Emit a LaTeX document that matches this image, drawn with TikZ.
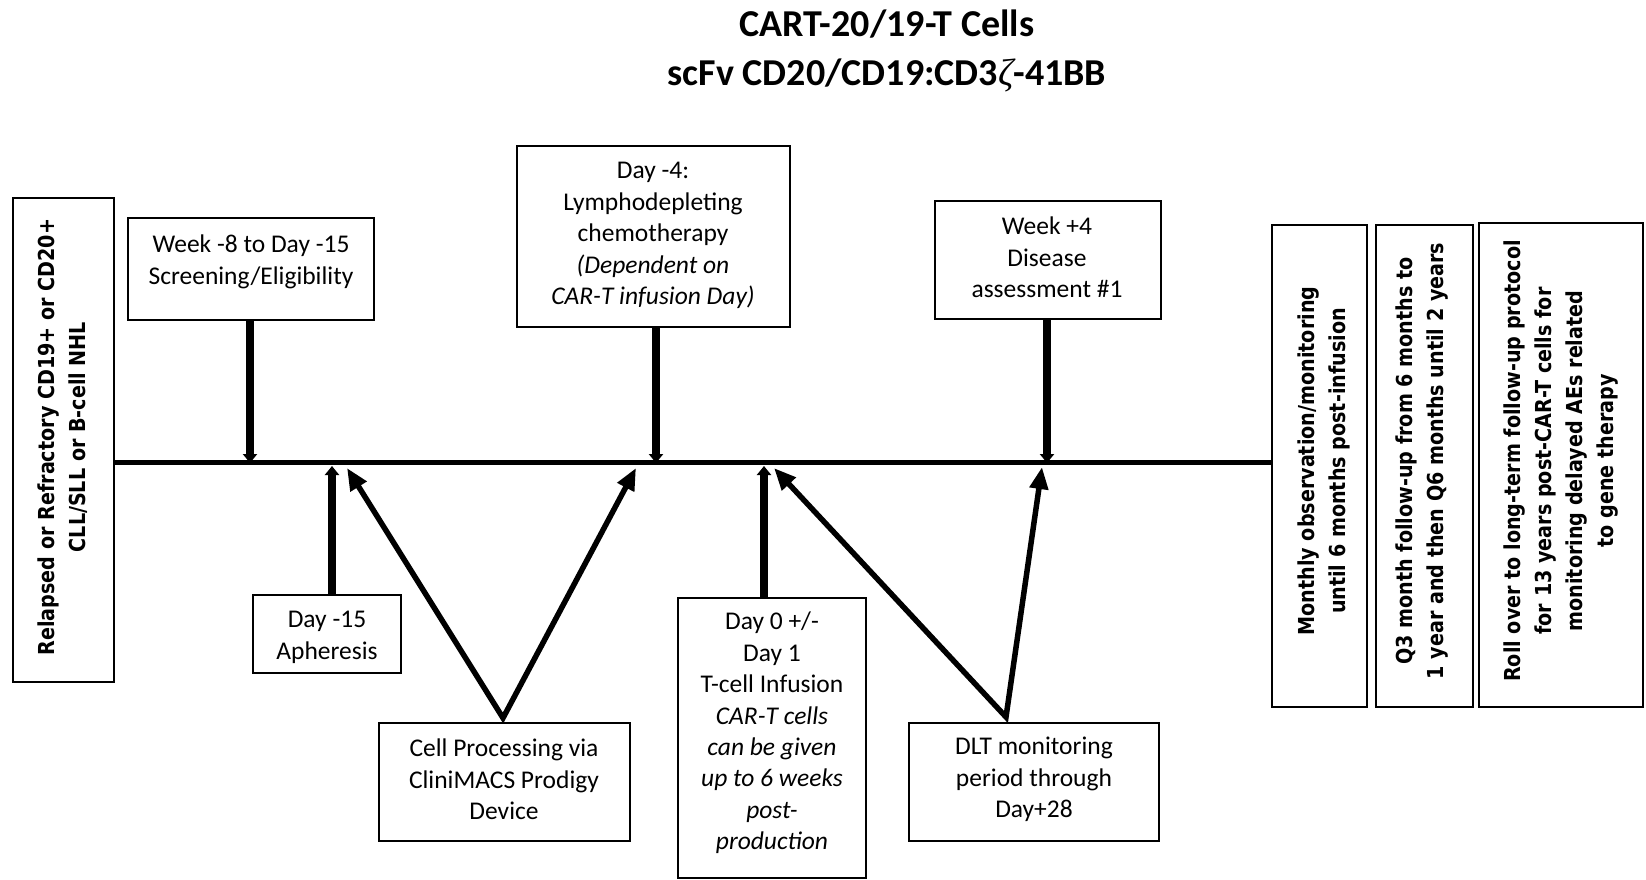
\documentclass[tikz,border=0pt]{standalone}
\usepackage{fontspec}
\setmainfont{Carlito}
\newfontfamily\rotfont[FakeStretch=0.87]{DejaVu Sans}
\newfontfamily\zetafont{Liberation Serif}
\usetikzlibrary{arrows.meta}
\begin{document}
\begin{tikzpicture}[x=1pt,y=-1pt,
  box/.style={draw=black, line width=1.5pt, inner sep=0pt},
  txt/.style={font=\fontsize{25.5}{31.4}\selectfont, align=center, inner sep=0pt},
  rtxt/.style={font=\rotfont\bfseries\fontsize{22}{31}\selectfont, align=center, rotate=90, inner sep=0pt},
  ttl/.style={font=\bfseries\fontsize{38}{44}\selectfont, anchor=base, inner sep=0pt},
  vconn/.style={line width=8pt, -{Triangle[length=9pt,width=14pt]}},
  dconn/.style={line width=5.5pt, line join=miter, {Triangle[length=22pt,width=18pt]}-{Triangle[length=22pt,width=18pt]}},
  tline/.style={line width=5pt}]
\useasboundingbox (0,0) rectangle (1646,879);

% title
\node[ttl] (title1) at (887,36.5) {CART-20/19-T Cells};
\node[ttl] (title2) at (887,85.5) {scFv CD20/CD19:CD3{\zetafont\mdseries\itshape ζ}-41BB};

% boxes
\node[box, minimum width=101pt, minimum height=484pt] (lb) at (63.5,440) {};
\node[rtxt] (lbt) at (62.5,437) {Relapsed or Refractory CD19+ or CD20+\\CLL/SLL or B-cell NHL};

\node[box, minimum width=246pt, minimum height=102pt] (wk) at (251,269) {};
\node[txt] (wkt) at (251,262) {Week -8 to Day -15\\Screening/Eligibility};

\node[box, minimum width=273pt, minimum height=181pt] (ch) at (653.5,236.5) {};
\node[txt] (cht) at (653,235.5) {Day -4:\\Lymphodepleting\\chemotherapy\\\textit{(Dependent on}\\\textit{CAR-T infusion Day)}};

\node[box, minimum width=226pt, minimum height=118pt] (w4) at (1048,260) {};
\node[txt] (w4t) at (1047,257.5) {Week +4\\Disease\\assessment \#1};

\node[box, minimum width=148pt, minimum height=78pt] (ap) at (327,634) {};
\node[txt] (apt) at (327,637.5) {Day -15\\Apheresis};

\node[box, minimum width=251pt, minimum height=118pt] (cp) at (504.5,782) {};
\node[txt] (cpt) at (504,779.5) {Cell Processing via\\CliniMACS Prodigy\\Device};

\node[box, minimum width=188pt, minimum height=280pt] (d0) at (772,738) {};
\node[txt] (d0t) at (772,733) {Day 0 +/-\\Day 1\\T-cell Infusion\\\textit{CAR-T cells}\\\textit{can be given}\\\textit{up to 6 weeks}\\\textit{post-}\\\textit{production}};

\node[box, minimum width=250pt, minimum height=118pt] (dlt) at (1034,782) {};
\node[txt] (dltt) at (1034,779.5) {DLT monitoring\\period through\\Day+28};

\node[box, minimum width=95pt, minimum height=482pt] (mo) at (1319.5,466) {};
\node[rtxt] (mot) at (1324,461) {Monthly observation/monitoring\\until 6 months post-infusion};

\node[box, minimum width=97pt, minimum height=482pt] (q3) at (1424.5,466) {};
\node[rtxt] (q3t) at (1422,461) {Q3 month follow-up from 6 months to\\1 year and then Q6 months until 2 years};

\node[box, minimum width=164pt, minimum height=484pt] (ro) at (1561,465) {};
\node[rtxt] (rot) at (1561,461) {Roll over to long-term follow-up protocol\\for 13 years post-CAR-T cells for\\monitoring delayed AEs related\\to gene therapy};

% timeline
\coordinate (tl) at (700,462);
\draw[tline] (lb.east |- tl) -- (mo.west |- tl);

% vertical connectors
\coordinate (twk) at (250,463);
\coordinate (tch) at (656,463);
\coordinate (tw4) at (1047,463);
\coordinate (tap) at (332,466);
\coordinate (td0) at (764,466);
\draw[vconn] (wk.south -| twk) -- (twk);
\draw[vconn] (ch.south -| tch) -- (tch);
\draw[vconn] (w4.south -| tw4) -- (tw4);
\draw[vconn] (ap.north -| tap) -- (tap);
\draw[vconn] (d0.north -| td0) -- (td0);

% diagonal connectors
\coordinate (cpa) at (503,718);
\coordinate (cpl) at (347,468);
\coordinate (cpr) at (636,468);
\draw[dconn] (cpl) -- (cpa) -- (cpr);
\coordinate (dla) at (1006,717);
\coordinate (dll) at (774,468);
\coordinate (dlr) at (1042,467);
\draw[dconn] (dll) -- (dla) -- (dlr);
\end{tikzpicture}
\end{document}
